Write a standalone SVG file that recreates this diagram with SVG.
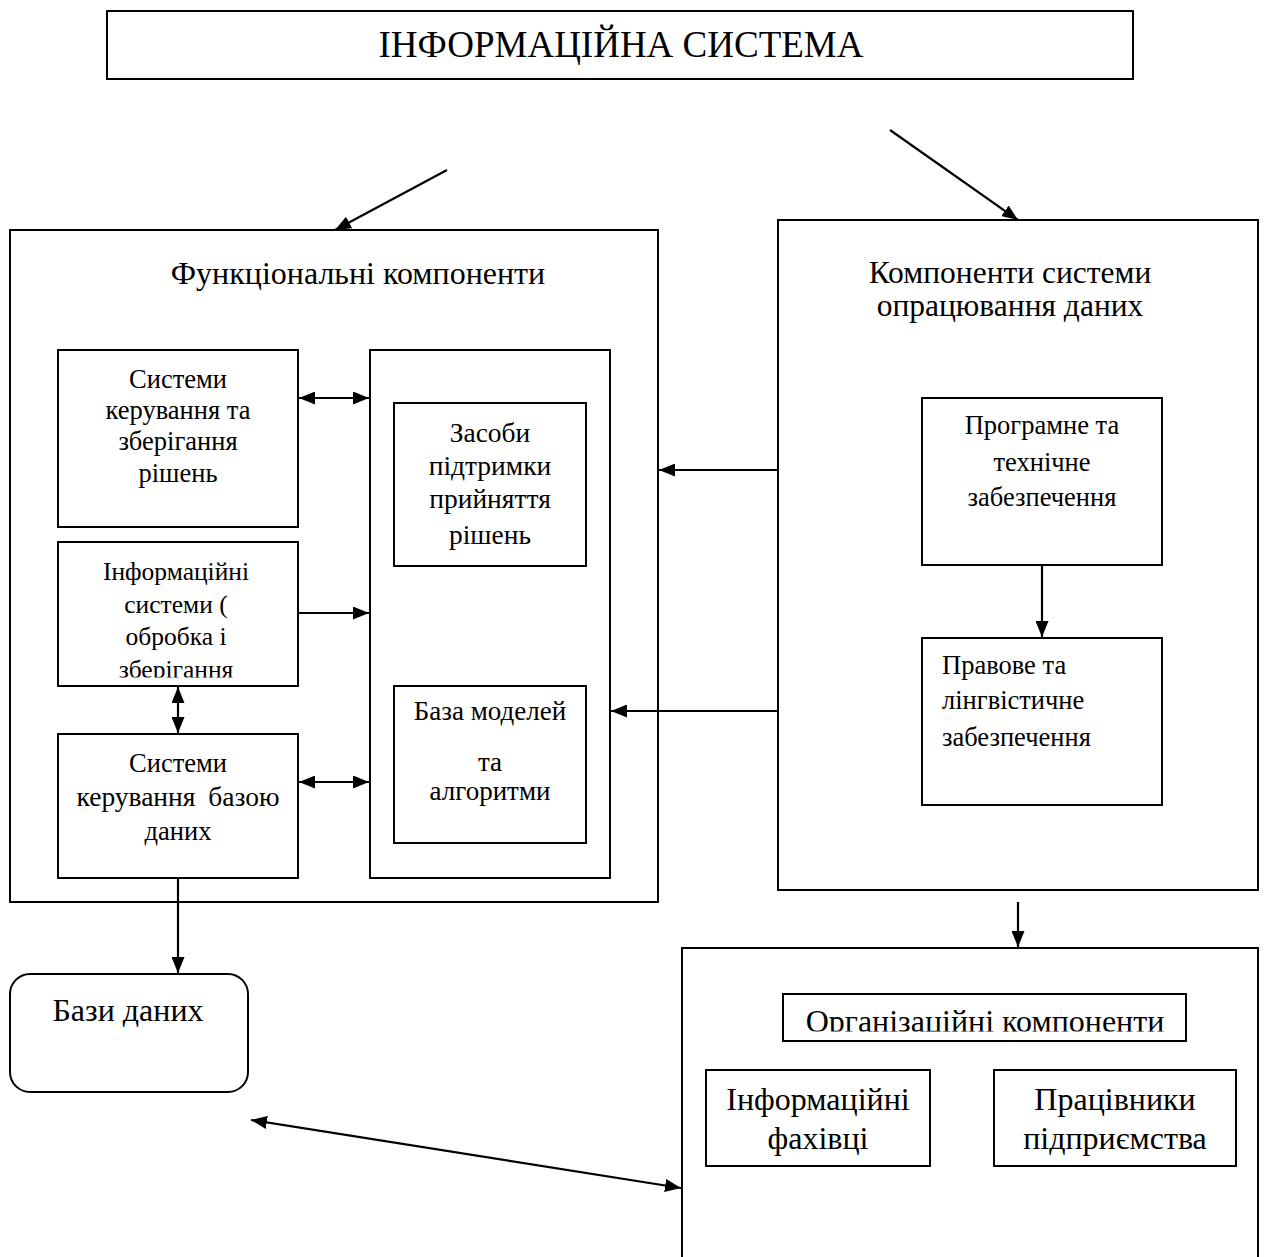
<svg xmlns="http://www.w3.org/2000/svg" width="1264" height="1257" viewBox="0 0 1264 1257">
<style>
.box{fill:#fff;stroke:#000;stroke-width:2}
.t{font-family:"Liberation Serif","Times New Roman",serif;fill:#000}
.c{text-anchor:middle}
.ln{stroke:#000;stroke-width:2.2;fill:none}
</style>
<defs>
<marker id="ah" viewBox="0 0 16 13" refX="16" refY="6.5" markerWidth="16" markerHeight="13" markerUnits="userSpaceOnUse" orient="auto-start-reverse">
<path d="M0,0 L16,6.5 L0,13 Z" fill="#000"/>
</marker>
<clipPath id="clipB"><rect x="58" y="542" width="240" height="135.5"/></clipPath>
<clipPath id="clipO"><rect x="783" y="994" width="403" height="37.5"/></clipPath>
</defs>
<rect width="1264" height="1257" fill="#fff"/>

<g id="title">
<rect class="box" x="107" y="11" width="1026" height="68"/>
<text class="t c" x="621" y="57" font-size="37">ІНФОРМАЦІЙНА СИСТЕМА</text>
</g>

<g id="functional">
<rect class="box" x="10" y="230" width="648" height="672"/>
<text class="t c" x="358" y="284" font-size="32">Функціональні компоненти</text>
</g>

<g id="container">
<rect class="box" x="370" y="350" width="240" height="528"/>
</g>

<g id="sys-decisions">
<rect class="box" x="58" y="350" width="240" height="177"/>
<text class="t c" x="178" y="388" font-size="26.5">Системи</text>
<text class="t c" x="178" y="419" font-size="26.5">керування та</text>
<text class="t c" x="178" y="450" font-size="26.5">зберігання</text>
<text class="t c" x="178" y="482" font-size="26.5">рішень</text>
</g>

<g id="info-systems">
<rect class="box" x="58" y="542" width="240" height="144"/>
<g clip-path="url(#clipB)">
<text class="t c" x="176" y="580" font-size="25.5">Інформаційні</text>
<text class="t c" x="176" y="613" font-size="25.5">системи (</text>
<text class="t c" x="176" y="645" font-size="25.5">обробка і</text>
<text class="t c" x="176" y="678" font-size="25.5">зберігання</text>
</g>
</g>

<g id="dbms">
<rect class="box" x="58" y="734" width="240" height="144"/>
<text class="t c" x="178" y="772" font-size="26.5">Системи</text>
<text class="t c" x="178" y="806" font-size="27.5" word-spacing="6">керування базою</text>
<text class="t c" x="178" y="840" font-size="26.5">даних</text>
</g>

<g id="dss">
<rect class="box" x="394" y="403" width="192" height="163"/>
<text class="t c" x="490" y="442" font-size="27.5">Засоби</text>
<text class="t c" x="490" y="475" font-size="27.5">підтримки</text>
<text class="t c" x="490" y="508" font-size="27.5">прийняття</text>
<text class="t c" x="490" y="544" font-size="27.5">рішень</text>
</g>

<g id="models">
<rect class="box" x="394" y="686" width="192" height="157"/>
<text class="t c" x="490" y="720" font-size="27">База моделей</text>
<text class="t c" x="490" y="771" font-size="27">та</text>
<text class="t c" x="490" y="800" font-size="27">алгоритми</text>
</g>

<g id="processing">
<rect class="box" x="778" y="220" width="480" height="670"/>
<text class="t c" x="1010" y="283" font-size="31.5">Компоненти системи</text>
<text class="t c" x="1010" y="316" font-size="31.5">опрацювання даних</text>
</g>

<g id="software">
<rect class="box" x="922" y="398" width="240" height="167"/>
<text class="t c" x="1042" y="434" font-size="26.5">Програмне та</text>
<text class="t c" x="1042" y="471" font-size="26.5">технічне</text>
<text class="t c" x="1042" y="506" font-size="26.5">забезпечення</text>
</g>

<g id="legal">
<rect class="box" x="922" y="638" width="240" height="167"/>
<text class="t" x="942" y="674" font-size="26.5">Правове та</text>
<text class="t" x="942" y="709" font-size="26.5">лінгвістичне</text>
<text class="t" x="942" y="746" font-size="26.5">забезпечення</text>
</g>

<g id="databases">
<rect class="box" x="10" y="974" width="238" height="118" rx="20" ry="20"/>
<text class="t c" x="128" y="1021" font-size="32">Бази даних</text>
</g>

<g id="organizational">
<rect class="box" x="682" y="948" width="576" height="320"/>
</g>

<g id="org-title">
<rect class="box" x="783" y="994" width="403" height="47"/>
<g clip-path="url(#clipO)">
<text class="t c" x="985" y="1032" font-size="32">Організаційні компоненти</text>
</g>
</g>

<g id="it-specialists">
<rect class="box" x="706" y="1070" width="224" height="96"/>
<text class="t c" x="818" y="1110" font-size="32">Інформаційні</text>
<text class="t c" x="818" y="1149" font-size="32">фахівці</text>
</g>

<g id="employees">
<rect class="box" x="994" y="1070" width="242" height="96"/>
<text class="t c" x="1115" y="1110" font-size="32">Працівники</text>
<text class="t c" x="1115" y="1149" font-size="32">підприємства</text>
</g>

<g id="connectors">
<line class="ln" x1="447" y1="170" x2="335" y2="230" marker-end="url(#ah)"/>
<line class="ln" x1="890" y1="130" x2="1018" y2="220" marker-end="url(#ah)"/>
<line class="ln" x1="299" y1="398" x2="369" y2="398" marker-start="url(#ah)" marker-end="url(#ah)"/>
<line class="ln" x1="298" y1="613" x2="369" y2="613" marker-end="url(#ah)"/>
<line class="ln" x1="178" y1="687" x2="178" y2="733" marker-start="url(#ah)" marker-end="url(#ah)"/>
<line class="ln" x1="299" y1="782" x2="369" y2="782" marker-start="url(#ah)" marker-end="url(#ah)"/>
<line class="ln" x1="178" y1="878" x2="178" y2="973" marker-end="url(#ah)"/>
<line class="ln" x1="778" y1="470" x2="659" y2="470" marker-end="url(#ah)"/>
<line class="ln" x1="778" y1="711" x2="611" y2="711" marker-end="url(#ah)"/>
<line class="ln" x1="1042" y1="565" x2="1042" y2="637" marker-end="url(#ah)"/>
<line class="ln" x1="1018" y1="902" x2="1018" y2="947" marker-end="url(#ah)"/>
<line class="ln" x1="251" y1="1120" x2="681" y2="1188" marker-start="url(#ah)" marker-end="url(#ah)"/>
</g>
</svg>
